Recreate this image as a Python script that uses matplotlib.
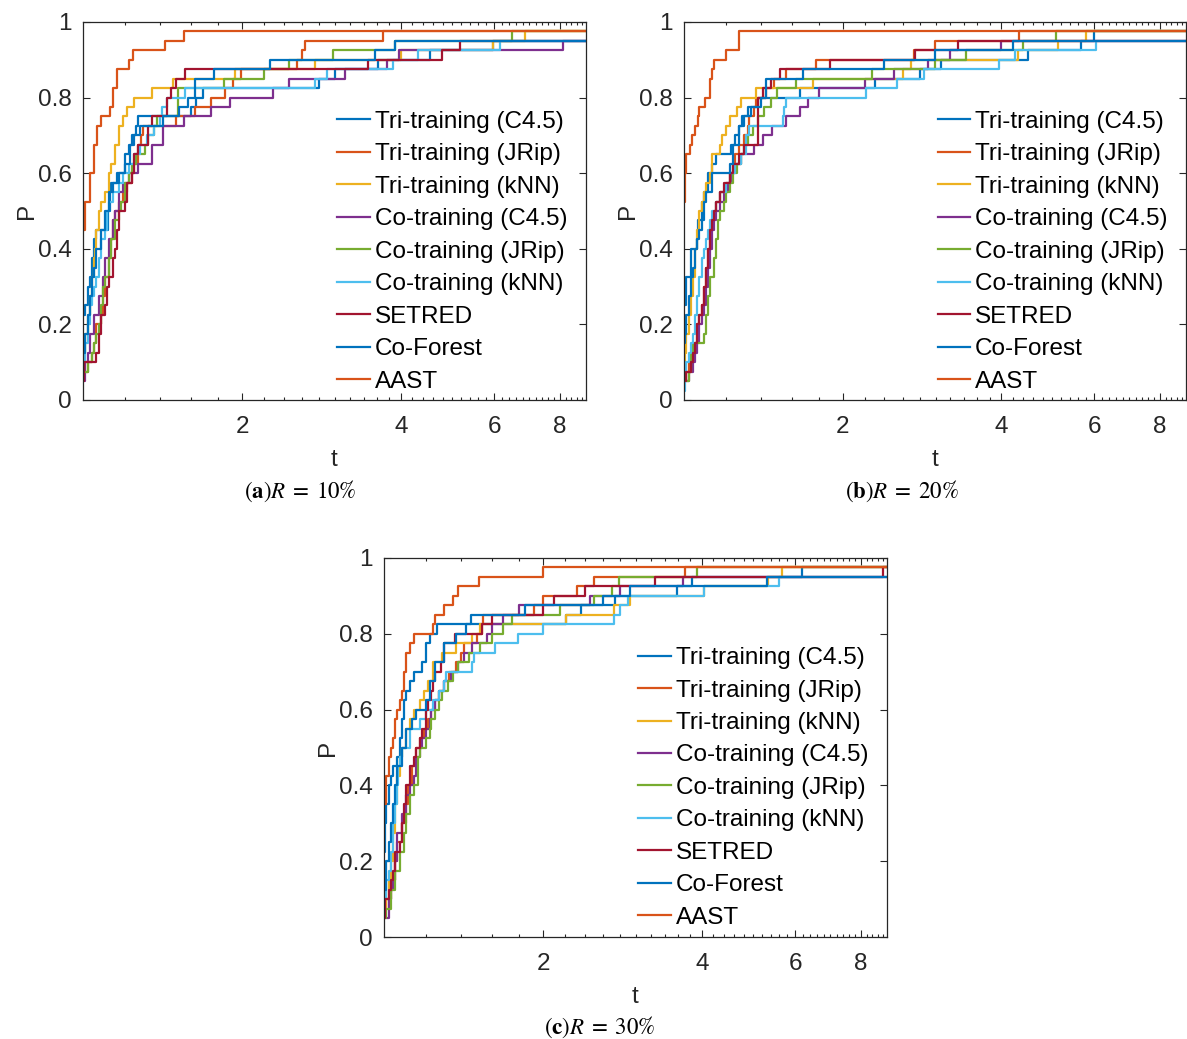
import numpy as np
import matplotlib
matplotlib.use('Agg')
import matplotlib.pyplot as plt
from matplotlib.ticker import FixedLocator, FuncFormatter

plt.rcParams['font.family'] = ['Liberation Sans', 'DejaVu Sans']
plt.rcParams['mathtext.fontset'] = 'stix'

methods = ['Tri-training (C4.5)', 'Tri-training (JRip)', 'Tri-training (kNN)',
           'Co-training (C4.5)', 'Co-training (JRip)', 'Co-training (kNN)',
           'SETRED', 'Co-Forest', 'AAST']
colors = ['#0072BD', '#D95319', '#EDB120', '#7E2F8E', '#77AC30',
          '#4DBEEE', '#A2142F', '#0072BD', '#D95319']
n_problems = 40
t_max = 8.96

# ---------- R = 10% : step positions t and number of solved problems k ----------
a_tri_c45_t = [1.0, 1.01, 1.02, 1.03, 1.04, 1.05, 1.06, 1.117, 1.125, 1.13, 1.16, 1.2, 1.22, 1.24, 1.26, 1.27, 1.6, 1.64, 1.69, 2.8, 3.0, 3.62, 4.54, 5.97]
a_tri_c45_k = [9, 10, 12, 13, 15, 17, 18, 20, 22, 23, 24, 26, 27, 28, 29, 30, 31, 32, 33, 34, 35, 36, 37, 38]
a_tri_jrip_t = [1.0, 1.02, 1.04, 1.05, 1.06, 1.08, 1.09, 1.1, 1.12, 1.13, 1.14, 1.15, 1.17, 1.19, 1.21, 1.24, 1.25, 1.27, 1.29, 1.3, 1.5, 1.63, 1.75, 1.86, 1.92, 1.99, 2.54, 2.6, 2.63, 3.7]
a_tri_jrip_k = [3, 4, 5, 6, 8, 9, 11, 13, 15, 17, 19, 20, 21, 22, 23, 24, 25, 27, 28, 29, 30, 31, 32, 33, 34, 35, 36, 37, 38, 39]
a_tri_knn_t = [1.0, 1.01, 1.02, 1.03, 1.04, 1.05, 1.055, 1.06, 1.07, 1.08, 1.1, 1.12, 1.13, 1.15, 1.17, 1.19, 1.21, 1.25, 1.35, 1.48, 1.94, 2.75, 4.0, 5.97, 6.87]
a_tri_knn_k = [5, 7, 9, 11, 13, 15, 16, 18, 20, 21, 22, 24, 25, 27, 29, 30, 31, 32, 33, 34, 35, 36, 37, 38, 39]
a_co_c45_t = [1.0, 1.01, 1.02, 1.03, 1.05, 1.07, 1.09, 1.1, 1.12, 1.14, 1.15, 1.17, 1.19, 1.22, 1.27, 1.35, 1.42, 1.55, 1.75, 1.9, 2.29, 2.46, 3.13, 3.76, 3.96, 8.1]
a_co_c45_k = [2, 4, 5, 7, 9, 11, 13, 15, 17, 19, 20, 22, 23, 24, 25, 27, 29, 30, 31, 32, 33, 34, 35, 36, 37, 38]
a_co_jrip_t = [1.0, 1.02, 1.04, 1.05, 1.06, 1.07, 1.08, 1.09, 1.1, 1.12, 1.13, 1.15, 1.17, 1.18, 1.2, 1.22, 1.24, 1.26, 1.31, 1.33, 1.36, 1.38, 1.515, 1.85, 2.2, 2.45, 2.97, 3.9, 6.49]
a_co_jrip_k = [3, 4, 5, 6, 7, 8, 10, 12, 13, 15, 17, 19, 20, 21, 23, 24, 25, 26, 27, 28, 29, 30, 33, 34, 35, 36, 37, 38, 39]
a_co_knn_t = [1.0, 1.01, 1.02, 1.03, 1.04, 1.05, 1.06, 1.07, 1.08, 1.1, 1.11, 1.12, 1.14, 1.17, 1.19, 1.22, 1.25, 1.28, 1.32, 1.36, 1.4, 1.41, 1.44, 1.56, 2.75, 2.9, 3.87, 4.3, 6.16]
a_co_knn_k = [4, 6, 8, 10, 11, 12, 13, 15, 17, 18, 20, 21, 22, 23, 24, 25, 26, 27, 28, 29, 30, 31, 32, 33, 34, 35, 36, 37, 38]
a_setred_t = [1.0, 1.005, 1.06, 1.07, 1.08, 1.1, 1.11, 1.12, 1.14, 1.15, 1.16, 1.17, 1.2, 1.21, 1.24, 1.25, 1.27, 1.33, 1.35, 1.44, 1.47, 1.5, 1.56, 3.46, 4.78, 5.18]
a_setred_k = [2, 4, 5, 7, 9, 10, 12, 13, 15, 16, 18, 20, 21, 23, 24, 26, 27, 29, 30, 32, 33, 34, 35, 36, 37, 38]
a_coforest_t = [1.0, 1.01, 1.02, 1.03, 1.04, 1.05, 1.06, 1.08, 1.1, 1.12, 1.14, 1.17, 1.2, 1.23, 1.25, 1.28, 1.42, 1.52, 1.58, 1.63, 1.77, 2.26, 3.57, 3.9]
a_coforest_k = [5, 7, 9, 11, 13, 14, 16, 18, 20, 22, 23, 24, 25, 27, 28, 29, 30, 31, 32, 34, 35, 36, 37, 38]
a_aast_t = [1.0, 1.01, 1.03, 1.05, 1.065, 1.08, 1.125, 1.14, 1.16, 1.22, 1.245, 1.43, 1.55]
a_aast_k = [18, 21, 24, 27, 29, 30, 31, 33, 35, 36, 37, 38, 39]

# ---------- R = 20% ----------
b_tri_c45_t = [1.0, 1.01, 1.03, 1.06, 1.065, 1.08, 1.09, 1.11, 1.13, 1.15, 1.23, 1.25, 1.27, 1.29, 1.32, 1.38, 1.66, 2.3, 2.8, 3.07, 4.49, 5.66, 6.0]
b_tri_c45_k = [10, 13, 16, 17, 19, 21, 22, 24, 25, 26, 27, 28, 29, 30, 31, 32, 33, 34, 35, 36, 37, 38, 39]
b_tri_jrip_t = [1.0, 1.01, 1.02, 1.03, 1.05, 1.06, 1.07, 1.08, 1.09, 1.1, 1.11, 1.12, 1.13, 1.14, 1.15, 1.17, 1.2, 1.22, 1.24, 1.25, 1.27, 1.3, 1.32, 1.33, 1.36, 1.37, 1.43, 1.48, 1.56, 1.78, 2.73, 2.99, 4.32]
b_tri_jrip_k = [2, 3, 4, 5, 6, 8, 9, 10, 12, 14, 16, 18, 19, 20, 21, 22, 23, 24, 25, 26, 27, 28, 29, 30, 31, 32, 33, 34, 35, 36, 37, 38, 39]
b_tri_knn_t = [1.0, 1.005, 1.01, 1.02, 1.03, 1.04, 1.05, 1.06, 1.07, 1.08, 1.09, 1.1, 1.12, 1.13, 1.17, 1.18, 1.2, 1.22, 1.26, 1.28, 1.37, 1.76, 2.6, 2.7, 4.3, 5.13, 5.78]
b_tri_knn_k = [3, 5, 7, 9, 11, 13, 16, 18, 20, 21, 22, 23, 24, 26, 27, 28, 29, 30, 31, 32, 33, 34, 35, 36, 37, 38, 39]
b_co_c45_t = [1.0, 1.02, 1.04, 1.05, 1.06, 1.07, 1.08, 1.09, 1.1, 1.11, 1.12, 1.13, 1.14, 1.15, 1.17, 1.19, 1.21, 1.23, 1.25, 1.28, 1.36, 1.41, 1.47, 1.56, 1.66, 1.72, 1.8, 2.2, 2.5, 2.9, 3.19, 4.0]
b_co_c45_k = [2, 3, 4, 5, 6, 8, 9, 10, 12, 14, 16, 18, 19, 20, 21, 22, 23, 24, 25, 26, 27, 28, 29, 30, 31, 32, 33, 34, 35, 36, 37, 38]
b_co_jrip_t = [1.0, 1.02, 1.03, 1.04, 1.09, 1.1, 1.11, 1.12, 1.14, 1.15, 1.16, 1.17, 1.19, 1.2, 1.22, 1.24, 1.26, 1.28, 1.3, 1.32, 1.35, 1.38, 1.42, 1.46, 1.5, 1.63, 2.27, 2.99, 3.42, 4.4, 5.08]
b_co_jrip_k = [2, 3, 5, 6, 7, 9, 11, 13, 15, 17, 19, 20, 21, 22, 23, 24, 25, 26, 27, 28, 29, 30, 31, 32, 33, 34, 35, 36, 37, 38, 39]
b_co_knn_t = [1.0, 1.005, 1.01, 1.02, 1.03, 1.04, 1.05, 1.06, 1.07, 1.08, 1.09, 1.1, 1.11, 1.12, 1.13, 1.15, 1.17, 1.2, 1.22, 1.25, 1.28, 1.31, 1.33, 1.54, 1.55, 1.56, 2.21, 2.53, 2.85, 3.96, 4.25, 6.06]
b_co_knn_k = [1, 3, 4, 5, 6, 7, 9, 11, 13, 15, 16, 17, 18, 19, 20, 21, 22, 23, 24, 25, 26, 28, 29, 30, 31, 32, 33, 34, 35, 36, 37, 38]
b_setred_t = [1.0, 1.01, 1.03, 1.04, 1.05, 1.06, 1.07, 1.08, 1.09, 1.1, 1.11, 1.12, 1.13, 1.14, 1.15, 1.17, 1.19, 1.22, 1.24, 1.27, 1.3, 1.38, 1.41, 1.46, 1.52, 1.89, 2.74, 3.31]
b_setred_k = [2, 3, 4, 5, 6, 8, 9, 10, 12, 14, 16, 18, 19, 20, 21, 22, 23, 24, 25, 26, 27, 32, 33, 34, 35, 36, 37, 38]
b_coforest_t = [1.0, 1.005, 1.01, 1.02, 1.03, 1.04, 1.05, 1.06, 1.07, 1.08, 1.09, 1.1, 1.13, 1.22, 1.24, 1.27, 1.3, 1.34, 1.4, 1.43, 1.68, 2.4, 2.99, 4.2]
b_coforest_k = [6, 7, 9, 11, 13, 14, 16, 17, 18, 19, 21, 22, 24, 25, 27, 29, 30, 31, 32, 34, 35, 36, 37, 38]
b_aast_t = [1.0, 1.004, 1.01, 1.025, 1.035, 1.05, 1.065, 1.07, 1.098, 1.12, 1.13, 1.14, 1.2, 1.273]
b_aast_k = [21, 24, 26, 27, 28, 29, 30, 31, 32, 34, 35, 36, 37, 39]

# ---------- R = 30% ----------
c_tri_c45_t = [1.0, 1.005, 1.01, 1.02, 1.03, 1.04, 1.06, 1.07, 1.08, 1.09, 1.1, 1.12, 1.14, 1.18, 1.2, 1.22, 1.26, 2.21, 2.36, 2.74, 3.58, 3.83, 6.19]
c_tri_c45_k = [9, 12, 14, 16, 17, 18, 19, 21, 23, 25, 26, 27, 28, 29, 31, 32, 33, 34, 35, 36, 37, 38, 39]
c_tri_jrip_t = [1.0, 1.01, 1.03, 1.05, 1.06, 1.08, 1.1, 1.11, 1.13, 1.15, 1.17, 1.19, 1.21, 1.23, 1.25, 1.27, 1.3, 1.33, 1.37, 1.4, 1.42, 1.5, 1.53, 1.54, 1.92, 2.0, 2.32, 2.5, 3.71]
c_tri_jrip_k = [3, 4, 6, 8, 10, 12, 14, 16, 18, 20, 21, 22, 23, 24, 25, 26, 27, 28, 29, 30, 31, 32, 33, 34, 35, 36, 37, 38, 39]
c_tri_knn_t = [1.0, 1.01, 1.02, 1.03, 1.04, 1.05, 1.06, 1.07, 1.08, 1.1, 1.12, 1.14, 1.17, 1.19, 1.21, 1.24, 1.29, 1.37, 1.47, 1.52, 2.21, 2.72, 2.92, 4.04, 5.34, 5.66]
c_tri_knn_k = [3, 4, 6, 8, 11, 14, 17, 19, 20, 22, 23, 24, 25, 26, 27, 29, 30, 31, 32, 33, 34, 35, 36, 37, 38, 39]
c_co_c45_t = [1.0, 1.02, 1.03, 1.04, 1.05, 1.06, 1.08, 1.1, 1.12, 1.14, 1.15, 1.17, 1.18, 1.2, 1.22, 1.23, 1.25, 1.27, 1.3, 1.34, 1.38, 1.42, 1.47, 1.57, 1.6, 1.68, 1.8, 2.45, 2.8, 3.69]
c_co_c45_k = [2, 4, 5, 6, 8, 11, 13, 15, 16, 17, 19, 20, 21, 22, 23, 24, 25, 26, 27, 28, 29, 30, 31, 32, 33, 34, 35, 36, 37, 38]
c_co_jrip_t = [1.0, 1.01, 1.03, 1.05, 1.07, 1.09, 1.1, 1.12, 1.14, 1.16, 1.17, 1.2, 1.22, 1.23, 1.25, 1.27, 1.29, 1.32, 1.35, 1.38, 1.45, 1.52, 1.6, 1.68, 1.75, 2.15, 2.5, 2.7, 2.78, 3.91]
c_co_jrip_k = [2, 3, 5, 7, 9, 11, 13, 15, 16, 19, 20, 21, 22, 23, 24, 25, 26, 27, 28, 29, 30, 31, 32, 33, 34, 35, 36, 37, 38, 39]
c_co_knn_t = [1.0, 1.01, 1.02, 1.03, 1.04, 1.05, 1.06, 1.065, 1.07, 1.08, 1.12, 1.17, 1.2, 1.24, 1.27, 1.3, 1.31, 1.47, 1.48, 1.62, 1.79, 2.0, 2.72, 2.8, 2.9, 4.04, 5.6]
c_co_knn_k = [4, 6, 7, 9, 12, 14, 16, 18, 19, 20, 22, 23, 24, 25, 26, 27, 28, 29, 30, 31, 32, 33, 34, 35, 36, 37, 38]
c_setred_t = [1.0, 1.005, 1.02, 1.03, 1.04, 1.05, 1.07, 1.08, 1.09, 1.1, 1.12, 1.14, 1.15, 1.17, 1.18, 1.2, 1.21, 1.23, 1.24, 1.25, 1.28, 1.3, 1.36, 1.53, 1.6, 2.0, 2.1, 2.4, 3.26, 8.8]
c_setred_k = [2, 4, 5, 6, 7, 9, 10, 12, 14, 16, 18, 19, 20, 21, 22, 24, 25, 26, 27, 28, 29, 31, 32, 33, 34, 35, 36, 37, 38, 39]
c_coforest_t = [1.0, 1.01, 1.02, 1.03, 1.04, 1.05, 1.06, 1.08, 1.1, 1.13, 1.15, 1.2, 1.22, 1.25, 1.3, 1.37, 1.43, 1.46, 1.85, 2.6, 2.92, 5.31]
c_coforest_k = [5, 8, 10, 12, 14, 16, 18, 20, 22, 23, 24, 25, 27, 29, 31, 32, 33, 34, 35, 36, 37, 38]
c_aast_t = [1.0, 1.01, 1.02, 1.03, 1.04, 1.05, 1.06, 1.07, 1.08, 1.09, 1.1, 1.12, 1.14, 1.24, 1.25, 1.3, 1.35, 1.38, 1.51, 2.0]
c_aast_k = [14, 17, 19, 20, 21, 23, 24, 25, 26, 28, 30, 31, 32, 33, 34, 35, 36, 37, 38, 39]

panel_a = [(a_tri_c45_t, a_tri_c45_k), (a_tri_jrip_t, a_tri_jrip_k), (a_tri_knn_t, a_tri_knn_k),
           (a_co_c45_t, a_co_c45_k), (a_co_jrip_t, a_co_jrip_k), (a_co_knn_t, a_co_knn_k),
           (a_setred_t, a_setred_k), (a_coforest_t, a_coforest_k), (a_aast_t, a_aast_k)]
panel_b = [(b_tri_c45_t, b_tri_c45_k), (b_tri_jrip_t, b_tri_jrip_k), (b_tri_knn_t, b_tri_knn_k),
           (b_co_c45_t, b_co_c45_k), (b_co_jrip_t, b_co_jrip_k), (b_co_knn_t, b_co_knn_k),
           (b_setred_t, b_setred_k), (b_coforest_t, b_coforest_k), (b_aast_t, b_aast_k)]
panel_c = [(c_tri_c45_t, c_tri_c45_k), (c_tri_jrip_t, c_tri_jrip_k), (c_tri_knn_t, c_tri_knn_k),
           (c_co_c45_t, c_co_c45_k), (c_co_jrip_t, c_co_jrip_k), (c_co_knn_t, c_co_knn_k),
           (c_setred_t, c_setred_k), (c_coforest_t, c_coforest_k), (c_aast_t, c_aast_k)]

W, H = 1187, 1039
fig = plt.figure(figsize=(W / 100, H / 100), dpi=100)
fs = 17.5
axc = '#262626'


def draw_panel(rect, curves):
    ax = fig.add_axes(rect)
    for (t, k), color, name in zip(curves, colors, methods):
        x = np.append(t, t_max)
        y = np.append(k, k[-1]) / n_problems
        ax.step(x, y, where='post', color=color, lw=1.6, label=name)
    ax.set_xscale('log')
    ax.set_xlim(1, t_max)
    ax.set_ylim(0, 1)
    ax.xaxis.set_major_locator(FixedLocator([2, 4, 6, 8]))
    minor = [v for v in np.arange(1.2, 8.95, 0.2) if abs(v - round(v)) > 1e-6 or round(v) % 2 == 1]
    ax.xaxis.set_minor_locator(FixedLocator(minor))
    ax.xaxis.set_major_formatter(FuncFormatter(lambda v, p: '%g' % v))
    ax.xaxis.set_minor_formatter(FuncFormatter(lambda v, p: ''))
    ax.set_yticks(np.arange(0, 1.01, 0.2))
    ax.yaxis.set_major_formatter(FuncFormatter(lambda v, p: '%g' % round(v, 1)))
    ax.tick_params(which='both', direction='in', top=True, right=True, colors=axc,
                   labelsize=fs, width=0.8)
    ax.tick_params(which='major', length=5)
    ax.tick_params(axis='x', which='major', pad=11.5)
    ax.tick_params(axis='y', which='major', pad=8)
    ax.tick_params(which='minor', length=2.5)
    for s in ax.spines.values():
        s.set_color(axc)
        s.set_linewidth(0.9)
    ax.set_xlabel('t', fontsize=fs, color=axc)
    ax.set_ylabel('P', fontsize=fs, color=axc)
    ax.xaxis.set_label_coords(0.5, -0.13)
    ax.yaxis.set_label_coords(-0.09, 0.5)
    ax.legend(loc='upper left', bbox_to_anchor=(0.505, 0.765), frameon=False,
              fontsize=fs, handlelength=1.35, handletextpad=0.2, labelspacing=0.43,
              borderpad=0, borderaxespad=0)
    return ax


draw_panel([83 / W, 1 - 400 / H, 503 / W, 378 / H], panel_a)
draw_panel([684 / W, 1 - 400 / H, 502 / W, 378 / H], panel_b)
draw_panel([384 / W, 1 - 937 / H, 503 / W, 379 / H], panel_c)

cap = dict(ha='center', va='center', fontsize=16.5, color='black')
fig.text(300 / W, 1 - 491 / H, r'$(\mathbf{a})R\;=\;10\%$', **cap)
fig.text(902 / W, 1 - 491 / H, r'$(\mathbf{b})R\;=\;20\%$', **cap)
fig.text(600 / W, 1 - 1027 / H, r'$(\mathbf{c})R\;=\;30\%$', **cap)

fig.savefig('out.png', dpi=100)
